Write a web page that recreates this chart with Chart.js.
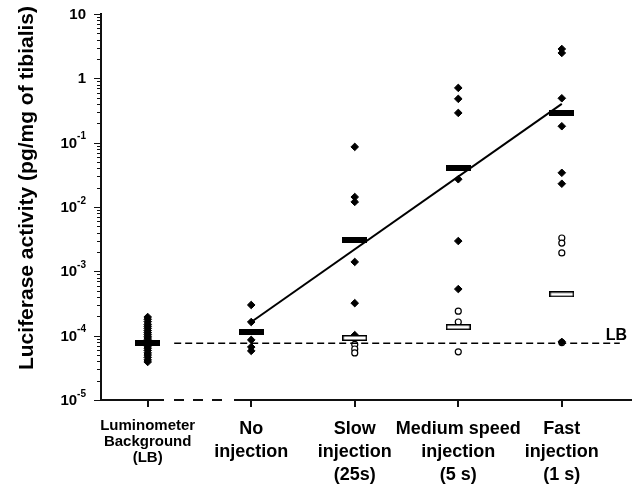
<!DOCTYPE html>
<html><head><meta charset="utf-8">
<script src="https://cdn.jsdelivr.net/npm/chart.js@4.4.0/dist/chart.umd.min.js"></script>
<style>html,body{margin:0;padding:0;background:#fff;}canvas{display:block;}</style>
</head><body>
<canvas id="c" width="639" height="485"></canvas>
<script>
// ---------- data ----------
const categories = [
  ['Luminometer', 'Background', '(LB)'],
  ['No', 'injection'],
  ['Slow', 'injection', '(25s)'],
  ['Medium speed', 'injection', '(5 s)'],
  ['Fast', 'injection', '(1 s)']
];
// filled diamonds: individual muscles
const filledLB = [1.95e-4, 1.8e-4, 1.65e-4, 1.5e-4, 1.4e-4, 1.3e-4, 1.2e-4, 1.12e-4, 1.05e-4, 9.8e-5, 9.2e-5,
                  8.6e-5, 8.0e-5, 7.4e-5, 6.9e-5, 6.4e-5, 5.9e-5, 5.4e-5, 5.0e-5, 4.6e-5, 4.2e-5, 3.9e-5];
const filledNo = [3.0e-4, 1.63e-4, 8.6e-5, 6.65e-5, 5.8e-5];
const filledSlow = [0.086, 0.0143, 0.012, 1.4e-3, 3.2e-4, 1.02e-4];
const filledMedium = [0.71, 0.48, 0.29, 0.027, 2.96e-3, 5.3e-4];
const filledFast = [2.86, 2.48, 0.49, 0.18, 0.034, 0.023, 8.0e-5];
// open circles
const openLB = [];
const openNo = [];
const openSlow = [7.3e-5, 6.2e-5, 5.4e-5];
const openMedium = [2.4e-4, 1.63e-4, 5.6e-5];
const openFast = [3.3e-3, 2.75e-3, 1.93e-3, 7.8e-5];
// group means (horizontal bars)
const filledMeans = [7.6e-5, 1.15e-4, 3.1e-3, 0.040, 0.29];
const openMeans = [null, null, 9.2e-5, 1.36e-4, 4.4e-4];
// regression line
const regressionX = [1, 4];
const regressionY = [1.63e-4, 0.40];
// luminometer background level
const lbLevel = 7.6e-5;
const lbLineX = [0.256, 4.56];
const lbLabel = 'LB';
// y axis
const yTickExponents = [1, 0, -1, -2, -3, -4, -5];
const yTitle = 'Luciferase activity (pg/mg of tibialis)';

// ---------- build ----------
const FONT = '"Liberation Sans", Arial, Helvetica, sans-serif';
const INK = '#111111';
const filledGroups = [filledLB, filledNo, filledSlow, filledMedium, filledFast];
const openGroups = [openLB, openNo, openSlow, openMedium, openFast];
const filledPoints = filledGroups.flatMap((g, i) => g.map(v => ({x: i, y: v})));
const openPoints = openGroups.flatMap((g, i) => g.map(v => ({x: i, y: v})));

function makeBar(filled) {
  const c = document.createElement('canvas');
  c.width = 25; c.height = 6;
  const g = c.getContext('2d');
  if (filled) { g.fillStyle = '#000'; g.fillRect(0, 0, 25, 6); }
  else {
    g.fillStyle = '#fff'; g.fillRect(0, 0, 25, 6);
    g.strokeStyle = '#000'; g.lineWidth = 1.5; g.strokeRect(0.75, 0.75, 23.5, 4.5);
  }
  return c;
}
const filledBar = makeBar(true);
const openBar = makeBar(false);

function tickLabel(e) {
  if (e === 1) return {base: '10', sup: ''};
  if (e === 0) return {base: '1', sup: ''};
  return {base: '10', sup: String(e)};
}

const axisPlugin = {
  id: 'customAxes',
  afterDraw(chart) {
    const {ctx, chartArea: a, scales: {x, y}} = chart;
    ctx.save();
    ctx.setLineDash([]);
    ctx.globalAlpha = 1;
    ctx.globalCompositeOperation = 'source-over';
    ctx.fillStyle = INK;
    const L = Math.round(a.left), B = Math.round(a.bottom), T = Math.round(a.top), R = Math.round(a.right);
    // y axis line
    ctx.fillRect(L - 1, T, 2, B - T + 1);
    // y ticks (major + minor)
    const minE = Math.min(...yTickExponents), maxE = Math.max(...yTickExponents);
    for (let e = minE; e <= maxE; e++) {
      const py = Math.round(y.getPixelForValue(Math.pow(10, e)));
      ctx.fillRect(L - 7, py, 7, 1);
      if (e < maxE) {
        for (let m = 2; m <= 9; m++) {
          const pm = Math.round(y.getPixelForValue(m * Math.pow(10, e)));
          ctx.fillRect(L - 4, pm, 4, 1);
        }
      }
    }
    // x axis with break between first two categories
    const mid = Math.round((x.getPixelForValue(0) + x.getPixelForValue(1)) / 2);
    ctx.fillRect(L - 1, B - 1, mid - 35 - (L - 1), 2);
    ctx.fillRect(mid + 35, B - 1, R - (mid + 35), 2);
    for (let d = mid - 25; d < mid + 26; d += 19) {
      ctx.fillRect(d, B - 1, 10, 2);
    }
    // x tick marks
    categories.forEach((c, i) => {
      const px = Math.round(x.getPixelForValue(i));
      ctx.fillRect(px - 1, B, 2, 7);
    });
    // y tick labels with superscripts
    ctx.fillStyle = '#000';
    const right = L - 15;
    yTickExponents.forEach(e => {
      const py = y.getPixelForValue(Math.pow(10, e));
      const t = tickLabel(e);
      ctx.textBaseline = 'middle';
      ctx.textAlign = 'right';
      let r = right;
      if (t.sup) {
        ctx.font = 'bold 10px ' + FONT;
        ctx.fillText(t.sup, r, py - 6);
        r -= ctx.measureText(t.sup).width;
      }
      ctx.font = 'bold 15px ' + FONT;
      ctx.fillText(t.base, r, py + 1);
    });
    // y axis title
    ctx.save();
    ctx.translate(27, 188);
    ctx.rotate(-Math.PI / 2);
    ctx.font = 'bold 21px ' + FONT;
    ctx.textAlign = 'center';
    ctx.textBaseline = 'middle';
    ctx.fillText(yTitle, 0, 0);
    ctx.restore();
    // LB label
    ctx.font = 'bold 16px ' + FONT;
    ctx.textAlign = 'left';
    ctx.textBaseline = 'alphabetic';
    ctx.fillText(lbLabel, x.getPixelForValue(lbLineX[1]) - 14, y.getPixelForValue(lbLevel) - 3);
    ctx.restore();
  }
};

new Chart(document.getElementById('c'), {
  type: 'scatter',
  data: {
    datasets: [
      {label: 'Regression', data: regressionX.map((v, i) => ({x: v, y: regressionY[i]})),
       showLine: true, borderColor: '#000', borderWidth: 2, pointRadius: 0, order: 1},
      {label: 'Background level', data: lbLineX.map(v => ({x: v, y: lbLevel})),
       showLine: true, borderColor: '#000', borderWidth: 1.5, borderDash: [7, 4], pointRadius: 0, order: 1},
      {label: 'Mean (filled)', data: filledMeans.map((v, i) => ({x: i, y: v})),
       pointStyle: filledBar, pointRadius: 6, order: 2},
      {label: 'Mean (open)', data: openMeans.map((v, i) => ({x: i, y: v})).filter(p => p.y !== null),
       pointStyle: openBar, pointRadius: 6, order: 2},
      {label: 'Filled', data: filledPoints, pointStyle: 'rectRot', pointRadius: 3.8,
       backgroundColor: '#000', borderColor: '#000', borderWidth: 1, order: 3},
      {label: 'Open', data: openPoints, pointStyle: 'circle', pointRadius: 3,
       backgroundColor: '#fff', borderColor: '#000', borderWidth: 1.2, order: 3}
    ]
  },
  options: {
    responsive: false,
    animation: false,
    devicePixelRatio: 1,
    events: [],
    layout: {padding: {top: 14, right: 1, left: 0, bottom: 0}},
    plugins: {legend: {display: false}, tooltip: {enabled: false}},
    scales: {
      x: {
        type: 'linear', min: -0.451, max: 4.678,
        afterBuildTicks: s => { s.ticks = categories.map((c, i) => ({value: i})); },
        afterFit: s => { s.height = 85; s.paddingLeft = 0; s.paddingRight = 0; },
        grid: {display: true, drawOnChartArea: false, drawTicks: true, tickLength: 6, lineWidth: 0, color: 'rgba(0,0,0,0)'},
        border: {display: false},
        ticks: {
          callback: (v, i) => categories[i],
          color: '#000', padding: 12, maxRotation: 0, minRotation: 0, autoSkip: false,
          font: c => c.index === 0
            ? {family: FONT, size: 15, weight: 'bold', lineHeight: 1.05}
            : {family: FONT, size: 18, weight: 'bold', lineHeight: 1.26}
        }
      },
      y: {
        type: 'logarithmic', min: 1e-5, max: 10,
        afterFit: s => { s.width = 101; },
        ticks: {display: false},
        grid: {display: false},
        border: {display: true, color: '#000', width: 2}
      }
    }
  },
  plugins: [axisPlugin]
});
</script>
</body></html>
